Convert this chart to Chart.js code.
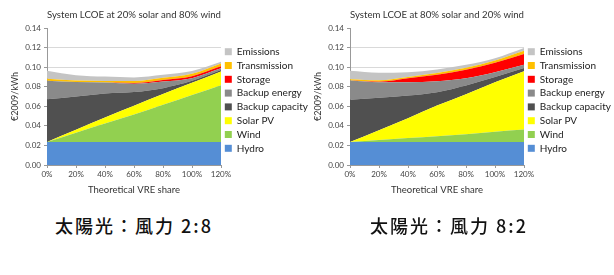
<!DOCTYPE html>
<html>
<head>
<meta charset="utf-8">
<script src="https://cdn.jsdelivr.net/npm/chart.js@4"></script>
<style>
  body { margin: 0; background: #fff; width: 614px; height: 275px; position: relative; overflow: hidden; }
  .box { position: absolute; top: 0; height: 200px; width: 306px; }
  .cap { position: absolute; top: 215px; line-height: 20px; font-family: "Noto Sans CJK JP", sans-serif; font-size: 18px; font-weight: 500; letter-spacing: 2px; color: #111; white-space: pre; }
</style>
</head>
<body>
<div class="box" style="left:3px"><canvas id="chartA"></canvas></div>
<div class="box" style="left:306px"><canvas id="chartB"></canvas></div>
<div class="cap" style="left:55px">太陽光：風力 2:8</div>
<div class="cap" style="left:370px">太陽光：風力 8:2</div>
<script>
// theoretical VRE share (x axis)
const shares = ['0%', '20%', '40%', '60%', '80%', '100%', '120%'];

const seriesNames = ['Hydro', 'Wind', 'Solar PV', 'Backup capacity', 'Backup energy', 'Storage', 'Transmission', 'Emissions'];
const seriesColors = ['#558ed5', '#92d050', '#ffff00', '#505050', '#8a8a8a', '#ff0000', '#ffc000', '#c4c4c4'];

// 20% solar / 80% wind  (EUR2009/kWh, each layer thickness)
const hydroA    = [0.0235, 0.0235, 0.0235, 0.0235, 0.0235, 0.0235, 0.0235];
const windA     = [0, 0.0095, 0.019, 0.028, 0.038, 0.048, 0.058];
const solarA    = [0, 0.003, 0.006, 0.009, 0.011, 0.0125, 0.014];
const capA      = [0.0436, 0.034, 0.0245, 0.014, 0.006, 0.002, 0.0015];
const energyA   = [0.019, 0.0147, 0.0112, 0.0085, 0.0068, 0.0027, 0.0018];
const storageA  = [0, 0, 0, 0.0008, 0.0015, 0.002, 0.002];
const transA    = [0.002, 0.0017, 0.0017, 0.002, 0.0023, 0.0025, 0.003];
const emisA     = [0.0082, 0.0054, 0.0045, 0.0037, 0.003, 0.0028, 0.0017];

// 80% solar / 20% wind
const hydroB    = [0.0235, 0.0235, 0.0235, 0.0235, 0.0235, 0.0235, 0.0235];
const windB     = [0, 0.002, 0.004, 0.006, 0.008, 0.0105, 0.0127];
const solarB    = [0, 0.010, 0.0203, 0.0313, 0.0409, 0.0506, 0.0597];
const capB      = [0.0431, 0.0331, 0.0232, 0.0136, 0.0088, 0.0052, 0.0031];
const energyB   = [0.0197, 0.016, 0.0136, 0.0113, 0.0075, 0.0051, 0.0034];
const storageB  = [0, 0.0005, 0.004, 0.0065, 0.0086, 0.0095, 0.011];
const transB    = [0.0014, 0.0015, 0.0014, 0.0017, 0.002, 0.0024, 0.0034];
const emisB     = [0.0085, 0.0076, 0.0048, 0.0037, 0.0031, 0.0024, 0.0028];

const yTicks = [0, 0.02, 0.04, 0.06, 0.08, 0.10, 0.12, 0.14];

const FONT = 'Lato, "Liberation Sans", sans-serif';

function makeChart(id, title, layers) {
    const datasets = layers.map((vals, i) => ({
        label: seriesNames[i],
        data: vals,
        backgroundColor: seriesColors[i],
        borderWidth: 0,
        pointRadius: 0,
        fill: i === 0 ? 'origin' : '-1',
        cubicInterpolationMode: 'monotone'
    }));

    return new Chart(document.getElementById(id), {
        type: 'line',
        data: { labels: shares, datasets: datasets },
        options: {
            responsive: true,
            maintainAspectRatio: false,
            animation: false,
            layout: { padding: { left: 2, right: 0, top: 0, bottom: 0 } },
            plugins: {
                title: {
                    display: true,
                    fullSize: false,
                    text: title,
                    color: '#333',
                    font: { family: FONT, size: 10, weight: 'normal' },
                    padding: { top: 9, bottom: 7 }
                },
                legend: {
                    position: 'right',
                    reverse: true,
                    maxWidth: 88,
                    labels: {
                        boxWidth: 7,
                        boxHeight: 7,
                        padding: 3.8,
                        color: '#222',
                        font: { family: FONT, size: 10 }
                    }
                },
                tooltip: { enabled: false }
            },
            scales: {
                x: {
                    offset: false,
                    grid: { drawOnChartArea: false, drawTicks: true, tickLength: 3, tickColor: '#999' },
                    border: { color: '#999' },
                    ticks: { color: '#444', font: { family: FONT, size: 8 }, maxRotation: 0, padding: 2 },
                    title: { display: true, text: 'Theoretical VRE share', color: '#333', font: { family: FONT, size: 9.5 }, padding: { top: 3 } }
                },
                y: {
                    stacked: true,
                    min: 0,
                    max: 0.14,
                    afterFit: axis => { axis.width = 42; },
                    afterBuildTicks: axis => { axis.ticks = yTicks.map(v => ({ value: v })); },
                    grid: {
                        color: ctx => (ctx.tick && ctx.tick.value >= 0.139) ? 'rgba(0,0,0,0)' : '#d9d9d9',
                        tickLength: 3,
                        tickColor: '#999'
                    },
                    border: { color: '#999' },
                    ticks: { color: '#444', font: { family: FONT, size: 8 }, padding: 3, callback: v => v.toFixed(2) },
                    title: { display: true, text: '€2009/kWh', color: '#333', font: { family: FONT, size: 9 }, padding: { top: 5, bottom: 2 } }
                }
            }
        }
    });
}

makeChart('chartA', 'System LCOE at 20% solar and 80% wind',
    [hydroA, windA, solarA, capA, energyA, storageA, transA, emisA]);
makeChart('chartB', 'System LCOE at 80% solar and 20% wind',
    [hydroB, windB, solarB, capB, energyB, storageB, transB, emisB]);
</script>
</body>
</html>
